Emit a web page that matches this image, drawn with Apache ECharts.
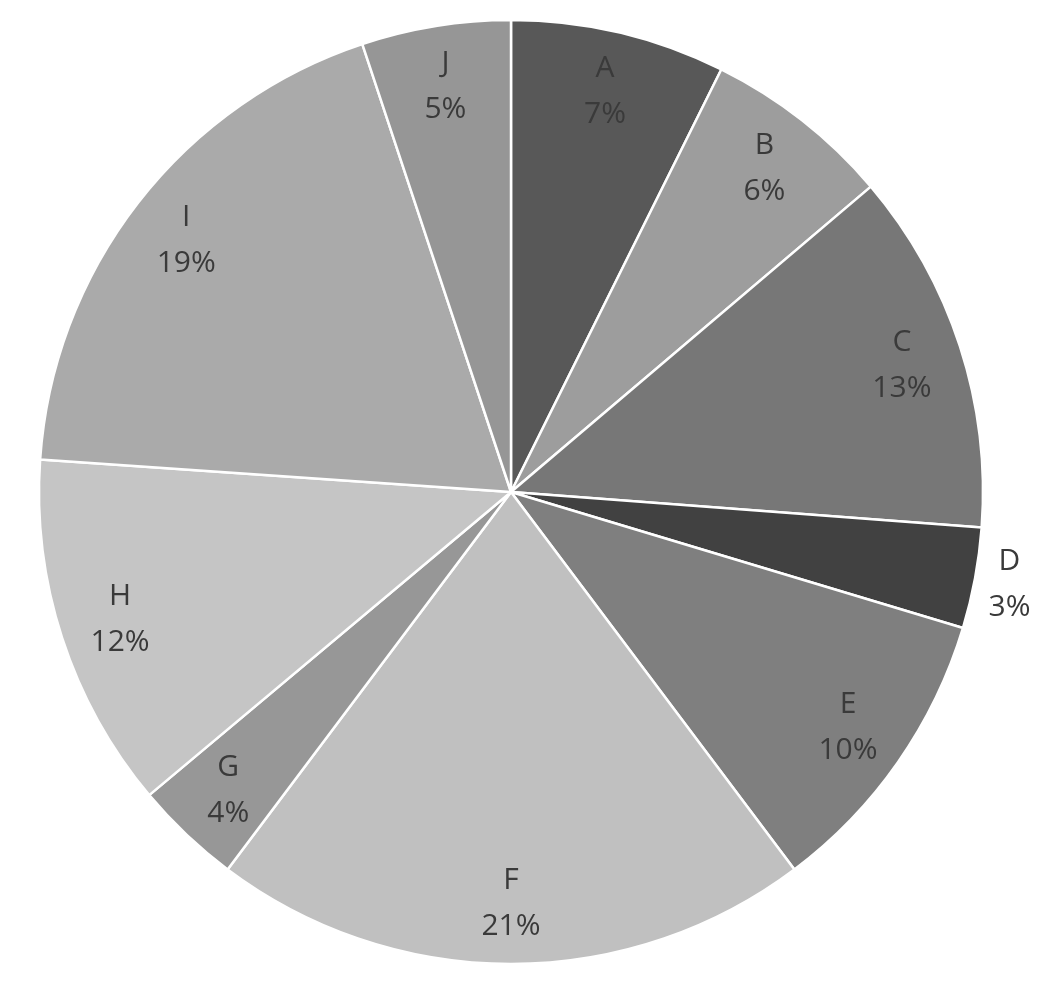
<!DOCTYPE html>
<html>
<head>
<meta charset="utf-8">
<script src="https://cdn.jsdelivr.net/npm/echarts@6/dist/echarts.min.js"></script>
<style>
html,body{margin:0;padding:0;background:#fff;}
#chart{width:1052px;height:996px;}
</style>
</head>
<body>
<div id="chart"></div>
<script>
const categories = ['A','B','C','D','E','F','G','H','I','J'];
const values = [7.35, 6.45, 12.4, 3.45, 10.1, 20.5, 3.65, 12.2, 18.8, 5.1];
const pctLabels = ['7%','6%','13%','3%','10%','21%','4%','12%','19%','5%'];
const colors = ['#585858','#9d9d9d','#777777','#414141','#7f7f7f','#c0c0c0','#979797','#c5c5c5','#aaaaaa','#969696'];
const outsideLabel = ['D'];

const center = [511, 492];
const R = 472;
const labelStyle = {
  fontFamily: 'Open Sans',
  fontSize: 30,
  lineHeight: 46,
  color: '#3a3a3a',
  formatter: p => p.name + '\n' + pctLabels[p.dataIndex]
};

const mainData = categories.map((c, i) => ({ name: c, value: values[i], itemStyle: { color: colors[i] } }));
const innerLabelData = categories.map((c, i) => ({
  name: c, value: values[i],
  label: { show: outsideLabel.indexOf(c) < 0 }
}));
const outerLabelData = categories.map((c, i) => ({
  name: c, value: values[i],
  label: { show: outsideLabel.indexOf(c) >= 0 }
}));

const chart = echarts.init(document.getElementById('chart'));
chart.setOption({
  animation: false,
  series: [
    {
      type: 'pie', center: center, radius: [0, R], startAngle: 90, clockwise: true,
      silent: true,
      data: mainData,
      itemStyle: { borderColor: '#ffffff', borderWidth: 2.5 },
      label: { show: false }, labelLine: { show: false }
    },
    {
      type: 'pie', center: center, radius: [344, R], startAngle: 90, clockwise: true,
      silent: true,
      data: innerLabelData,
      itemStyle: { color: 'rgba(0,0,0,0)', borderWidth: 0 },
      label: Object.assign({ position: 'inside' }, labelStyle),
      labelLine: { show: false }
    },
    {
      type: 'pie', center: center, radius: [R, 536], startAngle: 90, clockwise: true,
      silent: true,
      data: outerLabelData,
      itemStyle: { color: 'rgba(0,0,0,0)', borderWidth: 0 },
      label: Object.assign({ position: 'inside' }, labelStyle),
      labelLine: { show: false }
    }
  ]
});
</script>
</body>
</html>
